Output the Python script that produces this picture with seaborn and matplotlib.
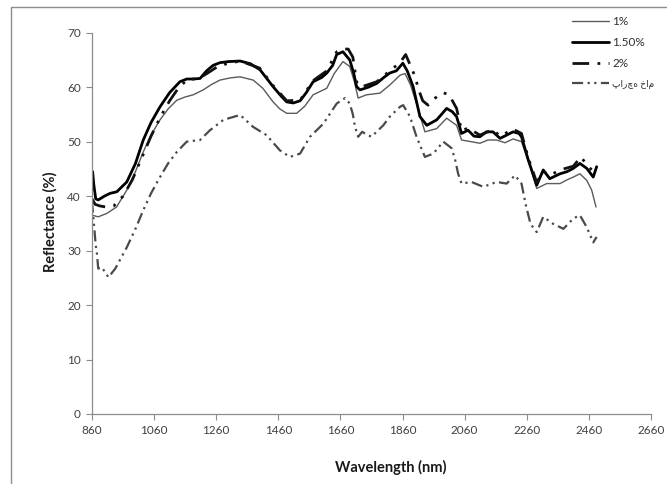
import numpy as np
import pandas as pd
import seaborn as sns
import matplotlib
matplotlib.use("Agg")
import matplotlib.pyplot as plt
from matplotlib.patches import Rectangle

# ---------------- data ----------------
wl_1 = [860, 880, 907, 939, 972, 1000, 1025, 1050, 1079, 1105, 1133, 1160, 1186, 1218, 1245,
        1272, 1305, 1337, 1379, 1410, 1443, 1465, 1487, 1519, 1545, 1572, 1616, 1640, 1668, 1690,
        1705, 1717, 1744, 1787, 1819, 1852, 1868, 1885, 1905, 1932, 1970, 2002, 2034, 2050, 2080,
        2109, 2135, 2163, 2190, 2216, 2243, 2271, 2292, 2324, 2367, 2390, 2410, 2431, 2453, 2469, 2483]
val_1 = [36.5, 36.2, 36.8, 38.0, 41.1, 44.5, 48.1, 51.2, 54.0, 56.0, 57.6, 58.2, 58.6, 59.5, 60.5,
         61.3, 61.7, 61.9, 61.3, 59.8, 57.3, 56.0, 55.2, 55.2, 56.5, 58.6, 59.8, 62.5, 64.7, 63.8,
         61.0, 58.0, 58.6, 58.9, 60.4, 62.2, 62.5, 60.5, 57.0, 51.8, 52.4, 54.3, 53.0, 50.3, 50.0,
         49.7, 50.3, 50.3, 49.8, 50.5, 50.0, 45.4, 41.4, 42.3, 42.3, 43.0, 43.5, 44.1, 42.9, 41.1, 38.0]

wl_15 = [862, 866, 872, 880, 900, 918, 940, 972, 1000, 1025, 1050, 1079, 1110, 1143, 1165,
         1185, 1208, 1229, 1250, 1272, 1300, 1337, 1370, 1401, 1443, 1470, 1487, 1508, 1530, 1550,
         1572, 1600, 1616, 1635, 1648, 1668, 1690, 1703, 1712, 1723, 1750, 1777, 1800, 1819, 1840,
         1861, 1875, 1894, 1916, 1938, 1970, 2002, 2020, 2034, 2050, 2071, 2090, 2109, 2130, 2151,
         2174, 2195, 2216, 2235, 2243, 2265, 2292, 2313, 2334, 2367, 2390, 2410, 2431, 2453, 2474, 2485]
val_15 = [44.5, 42.0, 39.5, 39.3, 40.0, 40.5, 40.8, 42.6, 46.0, 50.3, 53.5, 56.4, 59.0, 61.0, 61.5,
          61.5, 61.6, 63.0, 64.0, 64.5, 64.7, 64.8, 64.3, 63.2, 60.1, 58.3, 57.3, 57.1, 57.5, 59.0,
          61.0, 61.8, 62.6, 64.0, 66.0, 66.5, 65.0, 62.5, 60.1, 59.5, 60.0, 60.7, 61.8, 62.6, 63.0,
          64.4, 63.0, 60.1, 54.6, 53.0, 54.0, 56.1, 55.5, 54.6, 51.5, 52.1, 51.0, 50.9, 51.8, 51.8,
          50.6, 51.2, 51.8, 51.5, 50.9, 46.6, 42.0, 44.8, 43.2, 44.1, 44.5, 45.1, 46.0, 45.1, 43.5, 45.4]

wl_2 = [860, 870, 885, 905, 930, 960, 990, 1020, 1050, 1080, 1110, 1140, 1170, 1200, 1230,
        1270, 1337, 1400, 1443, 1487, 1530, 1572, 1616, 1648, 1668, 1685, 1700, 1712, 1725, 1777,
        1819, 1852, 1870, 1885, 1900, 1912, 1925, 1942, 1965, 1990, 2010, 2034, 2050, 2071, 2109,
        2151, 2174, 2216, 2243, 2265, 2292, 2313, 2334, 2367, 2410, 2434, 2453, 2474, 2485]
val_2 = [39.5, 38.5, 38.2, 38.0, 38.2, 40.0, 43.0, 47.0, 51.0, 54.5, 57.5, 60.0, 61.5, 61.5, 62.5,
         64.0, 64.8, 63.5, 60.3, 57.5, 57.6, 61.2, 63.0, 66.5, 67.0, 67.0, 65.5, 61.0, 60.0, 61.0,
         63.0, 64.5, 66.0, 64.0, 62.0, 59.5, 57.5, 56.7, 58.0, 59.0, 58.6, 56.1, 52.0, 52.5, 51.2,
         52.2, 51.0, 52.3, 51.5, 47.0, 42.5, 44.5, 43.8, 44.8, 45.5, 47.2, 45.8, 44.5, 45.0]

wl_raw = [860, 866, 872, 876, 880, 892, 913, 935, 972, 1000, 1025, 1050, 1079, 1105, 1133,
          1165, 1208, 1240, 1283, 1337, 1379, 1422, 1465, 1497, 1530, 1562, 1605, 1648, 1675, 1690,
          1700, 1707, 1717, 1730, 1744, 1760, 1798, 1819, 1852, 1862, 1884, 1905, 1932, 1959, 1991,
          2018, 2030, 2039, 2050, 2082, 2120, 2163, 2195, 2222, 2243, 2256, 2272, 2292, 2313, 2345,
          2378, 2410, 2431, 2453, 2474, 2485]
val_raw = [39.0, 35.0, 31.0, 29.4, 26.7, 26.9, 25.1, 26.7, 30.6, 34.0, 37.4, 40.5, 43.5, 46.0, 48.1,
           50.0, 50.3, 52.1, 54.0, 54.9, 52.7, 51.2, 48.4, 47.2, 47.8, 50.9, 53.3, 57.0, 58.0, 57.0,
           55.0, 52.7, 50.9, 51.8, 51.3, 50.9, 53.0, 54.6, 56.4, 56.7, 54.6, 50.9, 47.2, 47.8, 50.0,
           48.8, 46.5, 44.1, 42.3, 42.6, 41.7, 42.6, 42.3, 43.8, 42.3, 38.6, 34.9, 33.4, 36.2, 34.9,
           34.0, 35.9, 36.5, 34.3, 31.5, 32.5]

labels = ["1%", "1.50%", "2%", "پارچه خام"]
x_ticks = [860, 1060, 1260, 1460, 1660, 1860, 2060, 2260, 2460, 2660]
y_ticks = [0, 10, 20, 30, 40, 50, 60, 70]

# ---------------- style ----------------
sns.set_theme(style="white")
plt.rcParams["font.family"] = ["Lato", "DejaVu Sans"]

W, H = 667, 484
fig = plt.figure(figsize=(W / 100, H / 100), dpi=100)
L, R, T, B = 92, 651, 32.7, 414
ax = fig.add_axes([L / W, 1 - B / H, (R - L) / W, (B - T) / H])

series = [
    (wl_1, val_1, dict(color="#5a5a5a", lw=1.0, linestyle="-")),
    (wl_15, val_15, dict(color="#000000", lw=2.0, linestyle="-")),
    (wl_2, val_2, dict(color="#111111", lw=2.0, linestyle=(0, (6, 3, 1, 3, 1, 3)))),
    (wl_raw, val_raw, dict(color="#4a4a4a", lw=1.6, linestyle=(0, (5, 2, 1, 2, 1, 2)))),
]
for (xs, ys, st), lab in zip(series, labels):
    df = pd.DataFrame({"Wavelength": xs, "Reflectance": ys})
    sns.lineplot(data=df, x="Wavelength", y="Reflectance", ax=ax, label=lab,
                 estimator=None, sort=False, **st)

ax.set_xlim(860, 2660)
ax.set_ylim(0, 70)
ax.set_xticks(x_ticks)
ax.set_yticks(y_ticks)
ax.tick_params(axis="both", direction="out", length=4, width=0.8, color="#8c8c8c",
               labelsize=8.5, labelcolor="#404040", pad=4, bottom=True, left=True)
for s in ["top", "right"]:
    ax.spines[s].set_visible(False)
for s in ["left", "bottom"]:
    ax.spines[s].set_color("#8c8c8c")
    ax.spines[s].set_linewidth(0.9)
ax.grid(False)

ax.set_xlabel("Wavelength (nm)", fontsize=10.5, fontweight="bold", color="#1a1a1a")
ax.set_ylabel("Reflectance (%)", fontsize=10.5, fontweight="bold", color="#1a1a1a")
ax.xaxis.set_label_coords((391 - L) / (R - L), -(467 - B) / (B - T))
ax.xaxis.label.set_verticalalignment("center")
ax.yaxis.set_label_coords(-(L - 50) / (R - L), (B - 222) / (B - T))
ax.yaxis.label.set_verticalalignment("center")

leg = ax.legend(loc="upper left", bbox_to_anchor=(572 / W, 1 - 16 / H),
                bbox_transform=fig.transFigure, frameon=False, fontsize=8.5,
                handlelength=3.1, handletextpad=0.3, labelspacing=0.85,
                borderpad=0, borderaxespad=0)
for t in leg.get_texts():
    t.set_color("#303030")
leg.get_texts()[3].set_fontsize(6.5)

fig.add_artist(Rectangle((11 / W, -0.05), 1.1, 1 - 7 / H + 0.05, transform=fig.transFigure,
                         fill=False, ec="#8c8c8c", lw=1.0))

fig.savefig("out.png", dpi=100)
